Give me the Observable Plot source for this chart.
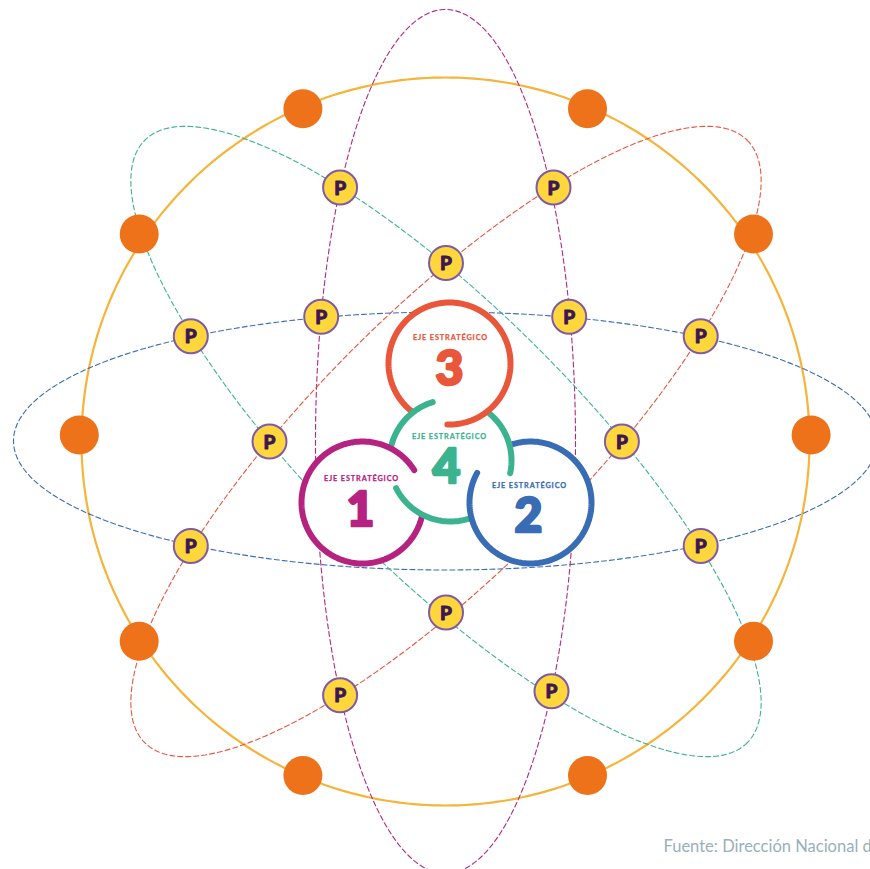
<!DOCTYPE html>
<html>
<head>
<meta charset="utf-8">
<script src="https://cdn.jsdelivr.net/npm/d3@7"></script>
<script src="https://cdn.jsdelivr.net/npm/@observablehq/plot@0.6"></script>
<style>
html, body { margin: 0; padding: 0; background: #ffffff; overflow: hidden; }
#chart { width: 870px; height: 869px; overflow: hidden; }
</style>
</head>
<body>
<div id="chart"></div>
<script>
// ---------- data ----------
// outer orbit (solid circle)
const orbitCx = 445, orbitCy = 441, orbitR = 364;
const orbitColor = "#F6B43A";

// orange nodes sitting on the orbit
const nodeX = [78.8, 810.6, 302.4, 587, 138.7, 753, 138.7, 753, 302.4, 587];
const nodeY = [434.4, 434.4, 108.2, 108.2, 233.6, 233.6, 640.8, 640.8, 775, 775];
const nodeColor = "#EE7219";

// dashed ellipses
const ellName  = ["azul", "magenta", "verde", "rojo"];
const ellCx    = [445, 445, 445.5, 445.5];
const ellCy    = [440.5, 441, 441, 441];
const ellRx    = [432, 130, 426, 426];
const ellRy    = [129, 432, 131, 131];
const ellRot   = [0, 0, 45, -45];
const ellColor = ["#3B6DB6", "#B3297F", "#3FB38F", "#E9573D"];

// "P" markers at the crossings
const pX = [339.6, 553, 445.5, 320.7, 568.7, 190.3, 700.2, 269, 621.4, 190.3, 700.2, 445.5, 339.6, 551];
const pY = [187, 187, 262.4, 316.3, 316.3, 335.7, 335.7, 441, 441, 545.4, 545.4, 612, 694.7, 690.8];
const pText = "P";

// central rings (ejes estratégicos)
const ringNum   = ["1", "2", "3", "4"];
const ringCx    = [362, 530, 449, 450];
const ringCy    = [502, 502, 363, 460];
const ringR     = 61;
const ringColor = ["#B5227F", "#386CB4", "#E9563A", "#3BB38F"];
const ringTitle = "EJE ESTRATÉGICO";
const titleX = [361, 529, 450, 449];
const titleY = [478, 485, 337, 436];
const numX   = [360, 528, 449, 446];
const numY   = [510, 516, 369, 467];

// arc pieces, in drawing order: ring index, start and end angle (deg, clockwise from +x)
const pieceRing  = [0, 3, 1, 3, 2, 3, 0];
const pieceStart = [13, 72, 252, 310, 129, 193, 200];
const pieceEnd   = [200, 153, 569, 372, 452, 253, 328];

const caption = "Fuente: Dirección Nacional d";

// ---------- geometry helpers ----------
const deg = Math.PI / 180;
function ellipsePts(i) {
  const th = ellRot[i] * deg, out = [];
  for (let k = 0; k <= 360; k += 1) {
    const t = k * deg;
    const ex = ellRx[i] * Math.cos(t), ey = ellRy[i] * Math.sin(t);
    out.push({x: ellCx[i] + ex * Math.cos(th) - ey * Math.sin(th),
              y: ellCy[i] + ex * Math.sin(th) + ey * Math.cos(th)});
  }
  return out;
}
function circlePts(cx, cy, r, a0, a1, step) {
  const out = [];
  for (let a = a0; a < a1; a += step) out.push({x: cx + r * Math.cos(a * deg), y: cy + r * Math.sin(a * deg)});
  out.push({x: cx + r * Math.cos(a1 * deg), y: cy + r * Math.sin(a1 * deg)});
  return out;
}

const nodes = nodeX.map((x, i) => ({x, y: nodeY[i]}));
const ps = pX.map((x, i) => ({x, y: pY[i]}));
const rings = ringNum.map((n, i) => ({
  n, cx: ringCx[i], cy: ringCy[i], color: ringColor[i],
  tx: titleX[i], ty: titleY[i], nx: numX[i], ny: numY[i]
}));

const marks = [];
marks.push(Plot.line(circlePts(orbitCx, orbitCy, orbitR, 0, 360, 1), {x: "x", y: "y", stroke: orbitColor, strokeWidth: 2.2}));
ellName.forEach((_, i) => {
  marks.push(Plot.line(ellipsePts(i), {x: "x", y: "y", stroke: ellColor[i], strokeWidth: 1.1, strokeDasharray: "5,3"}));
});
marks.push(Plot.dot(nodes, {x: "x", y: "y", r: 19.5, fill: nodeColor, stroke: "none"}));
marks.push(Plot.dot(ps, {x: "x", y: "y", r: 17, fill: "#FFD63C", stroke: "#7E5BA6", strokeWidth: 2}));
marks.push(Plot.text(ps, {x: "x", y: "y", text: () => pText, fontSize: 19, fontWeight: 900, fill: "#3B1756", stroke: "#3B1756", strokeWidth: 0.9, fontFamily: "Lato, sans-serif", dy: 1}));
marks.push(Plot.dot(rings, {x: "cx", y: "cy", r: ringR, fill: "#ffffff", stroke: "none"}));
pieceRing.forEach((ri, k) => {
  marks.push(Plot.line(circlePts(ringCx[ri], ringCy[ri], ringR, pieceStart[k], pieceEnd[k], 2),
    {x: "x", y: "y", stroke: ringColor[ri], strokeWidth: 6, strokeLinecap: "round", strokeLinejoin: "round"}));
});
marks.push(Plot.text(rings, {x: "tx", y: "ty", text: () => ringTitle, fill: "color", stroke: "color", strokeWidth: 0.25, fontSize: 7.3, fontWeight: 700, fontFamily: "Lato, sans-serif"}));
marks.push(Plot.text(rings, {x: "nx", y: "ny", text: "n", fill: "color", stroke: "color", strokeWidth: 2.6, strokeLinejoin: "round", fontSize: 48, fontWeight: 900, fontFamily: "Lato, sans-serif"}));
marks.push(Plot.text([caption], {x: () => 663, y: () => 846, text: d => d, textAnchor: "start", fill: "#9AB0BA", fontSize: 16.5, fontFamily: "Lato, sans-serif"}));

const chart = Plot.plot({
  width: 870,
  height: 869,
  margin: 0,
  x: {domain: [0, 870], range: [0, 870], axis: null},
  y: {domain: [0, 869], range: [0, 869], axis: null},
  color: {type: "identity"},
  style: {background: "#ffffff", overflow: "hidden"},
  marks
});
d3.select(chart).selectAll("text").filter(function() { return this.textContent === ringTitle; })
  .attr("letter-spacing", "0.9px");
document.getElementById("chart").appendChild(chart);
</script>
</body>
</html>
